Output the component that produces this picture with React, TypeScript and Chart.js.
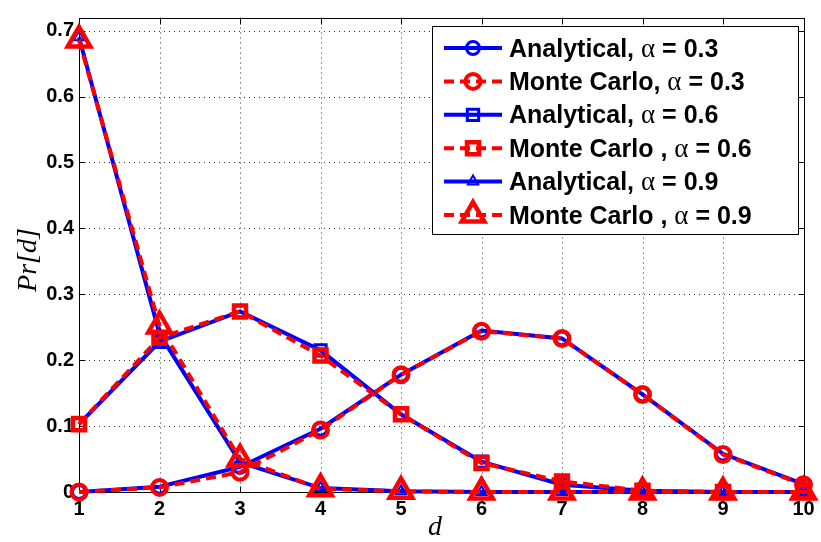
import React, { useEffect, useRef } from 'react';
import { Chart, registerables } from 'chart.js';

Chart.register(...registerables);

// ---- data ----
const dValues = [1, 2, 3, 4, 5, 6, 7, 8, 9, 10];
const xTickValues = [1, 2, 3, 4, 5, 6, 7, 8, 9, 10];
const yTickValues = [0, 0.1, 0.2, 0.3, 0.4, 0.5, 0.6, 0.7];

const analytical03 = [0, 0.008, 0.038, 0.096, 0.178, 0.245, 0.233, 0.148, 0.058, 0.012];
const monteCarlo03 = [0, 0.007, 0.030, 0.094, 0.178, 0.244, 0.233, 0.148, 0.057, 0.011];
const analytical06 = [0.103, 0.228, 0.274, 0.215, 0.118, 0.046, 0.011, 0.002, 0, 0];
const monteCarlo06 = [0.103, 0.234, 0.274, 0.207, 0.118, 0.044, 0.016, 0.002, 0, 0];
const analytical09 = [0.690, 0.240, 0.045, 0.006, 0.001, 0, 0, 0, 0, 0];
const monteCarlo09 = [0.686, 0.252, 0.050, 0.005, 0.001, 0, 0, 0, 0, 0];

const legendPrefixes = ['Analytical, ', 'Monte Carlo, ', 'Analytical, ', 'Monte Carlo , ', 'Analytical, ', 'Monte Carlo , '];
const legendAlphaValues = ['0.3', '0.3', '0.6', '0.6', '0.9', '0.9'];

const xTitle = 'd';
const yTitle = 'Pr[d]';

const SANS = '"Liberation Sans", Arial, Helvetica, sans-serif';
const SERIF = '"Liberation Serif", "Times New Roman", serif';
const BLUE = '#0000ff';
const RED = '#ff0000';

type MarkerSpec = { style: string; radius: number; bw: number };

function series(values: number[], color: string, dashed: boolean, m: MarkerSpec, idx: number) {
  return {
    label: legendPrefixes[idx] + 'α = ' + legendAlphaValues[idx],
    data: dValues.map((d, i) => ({ x: d, y: values[i] })),
    borderColor: color,
    borderWidth: 4,
    borderDash: dashed ? [10, 6] : [],
    pointStyle: m.style,
    pointRadius: m.radius,
    pointBorderWidth: m.bw,
    pointBorderColor: color,
    pointBackgroundColor: 'rgba(0,0,0,0)',
    fill: false,
    tension: 0,
    clip: false as any,
    order: dashed ? 0 : 1,
  };
}

function drawMarker(ctx: CanvasRenderingContext2D, style: string, x: number, y: number, r: number) {
  ctx.beginPath();
  if (style === 'circle') {
    ctx.arc(x, y, r, 0, Math.PI * 2);
  } else if (style === 'rect') {
    const s = r * Math.SQRT1_2;
    ctx.rect(x - s, y - s, 2 * s, 2 * s);
  } else {
    let rad = 0;
    const t = (2 * Math.PI) / 3;
    ctx.moveTo(x + Math.sin(rad) * r, y - Math.cos(rad) * r);
    rad += t;
    ctx.lineTo(x + Math.sin(rad) * r, y - Math.cos(rad) * r);
    rad += t;
    ctx.lineTo(x + Math.sin(rad) * r, y - Math.cos(rad) * r);
    ctx.closePath();
  }
  ctx.stroke();
}

const framePlugin = {
  id: 'matlabFrame',
  beforeDatasetsDraw(chart: any) {
    const { ctx, chartArea } = chart;
    const { left, right, top, bottom } = chartArea;
    const xs = chart.scales.x;
    const ys = chart.scales.y;
    ctx.save();
    // dotted grid
    ctx.strokeStyle = '#333';
    ctx.lineWidth = 1;
    ctx.setLineDash([1, 4]);
    xTickValues.forEach((v) => {
      const px = Math.round(xs.getPixelForValue(v)) + 0.5;
      if (px - left < 2 || right - px < 2) return;
      ctx.beginPath();
      ctx.moveTo(px, top);
      ctx.lineTo(px, bottom);
      ctx.stroke();
    });
    yTickValues.forEach((v) => {
      const py = Math.round(ys.getPixelForValue(v)) + 0.5;
      if (bottom - py < 2 || py - top < 2) return;
      ctx.beginPath();
      ctx.moveTo(left, py);
      ctx.lineTo(right, py);
      ctx.stroke();
    });
    ctx.setLineDash([]);
    // frame
    ctx.strokeStyle = '#000';
    ctx.lineWidth = 1;
    const L = Math.round(left) + 0.5;
    const R = Math.round(right) + 0.5;
    const T = Math.round(top) + 0.5;
    const B = Math.round(bottom) + 0.5;
    ctx.strokeRect(L, T, R - L, B - T);
    // inward ticks
    const tl = 6;
    ctx.beginPath();
    xTickValues.forEach((v) => {
      const px = Math.round(xs.getPixelForValue(v)) + 0.5;
      ctx.moveTo(px, B);
      ctx.lineTo(px, B - tl);
      ctx.moveTo(px, T);
      ctx.lineTo(px, T + tl);
    });
    yTickValues.forEach((v) => {
      const py = Math.round(ys.getPixelForValue(v)) + 0.5;
      ctx.moveTo(L, py);
      ctx.lineTo(L + tl, py);
      ctx.moveTo(R, py);
      ctx.lineTo(R - tl, py);
    });
    ctx.stroke();
    ctx.restore();
  },
  afterDraw(chart: any) {
    const { ctx } = chart;
    ctx.save();
    // axis titles
    ctx.fillStyle = '#000';
    ctx.font = 'italic 28px ' + SERIF;
    ctx.textAlign = 'center';
    ctx.textBaseline = 'alphabetic';
    ctx.fillText(xTitle, 435, 535);
    ctx.save();
    ctx.translate(36, 260);
    ctx.rotate(-Math.PI / 2);
    ctx.fillText(yTitle, 0, 0);
    ctx.restore();

    // legend
    const bx = 432.5, by = 26.5, bw = 366, bh = 208;
    ctx.fillStyle = '#fff';
    ctx.fillRect(bx, by, bw, bh);
    ctx.strokeStyle = '#000';
    ctx.lineWidth = 1;
    ctx.strokeRect(bx, by, bw, bh);
    const ds = chart.data.datasets;
    ds.forEach((d: any, i: number) => {
      const cy = 48 + i * 33.4;
      ctx.strokeStyle = d.borderColor;
      ctx.lineWidth = d.borderWidth;
      ctx.setLineDash(d.borderDash);
      ctx.beginPath();
      ctx.moveTo(444, cy);
      ctx.lineTo(502, cy);
      ctx.stroke();
      ctx.setLineDash([]);
      ctx.lineWidth = d.pointBorderWidth;
      drawMarker(ctx, d.pointStyle, 473, cy, d.pointRadius);
      // text
      ctx.fillStyle = '#000';
      ctx.textAlign = 'left';
      ctx.textBaseline = 'alphabetic';
      let x = 509;
      const base = cy + 8.5;
      ctx.font = 'bold 25px ' + SANS;
      ctx.fillText(legendPrefixes[i], x, base);
      x += ctx.measureText(legendPrefixes[i]).width;
      ctx.font = '27px ' + SERIF;
      ctx.fillText('α', x, base);
      x += ctx.measureText('α').width;
      ctx.font = 'bold 25px ' + SANS;
      ctx.fillText(' = ' + legendAlphaValues[i], x, base);
    });
    ctx.restore();
  },
};

export default function App() {
  const ref = useRef<HTMLCanvasElement | null>(null);
  useEffect(() => {
    document.body.style.margin = '0';
    const canvas = ref.current;
    if (!canvas) return;
    const chart = new Chart(canvas, {
      type: 'line',
      data: {
        datasets: [
          series(analytical03, BLUE, false, { style: 'circle', radius: 6.5, bw: 3 }, 0),
          series(monteCarlo03, RED, true, { style: 'circle', radius: 7.5, bw: 4 }, 1),
          series(analytical06, BLUE, false, { style: 'rect', radius: 8, bw: 3 }, 2),
          series(monteCarlo06, RED, true, { style: 'rect', radius: 8.5, bw: 4.5 }, 3),
          series(analytical09, BLUE, false, { style: 'triangle', radius: 6, bw: 2 }, 4),
          series(monteCarlo09, RED, true, { style: 'triangle', radius: 13, bw: 4.5 }, 5),
        ] as any,
      },
      options: {
        animation: false,
        responsive: false,
        devicePixelRatio: 1,
        layout: { padding: { top: 2, right: 13, left: 0, bottom: 0 } },
        plugins: { legend: { display: false }, tooltip: { enabled: false } },
        scales: {
          x: {
            type: 'linear',
            min: 1,
            max: 10,
            grid: { display: false, drawTicks: false },
            border: { display: false },
            afterBuildTicks: (s: any) => {
              s.ticks = xTickValues.map((v) => ({ value: v }));
            },
            afterFit: (s: any) => {
              s.height = 50;
            },
            ticks: {
              color: '#000',
              font: { family: SANS, size: 20, weight: 'bold' },
              padding: 5,
              maxRotation: 0,
              autoSkip: false,
            },
          },
          y: {
            type: 'linear',
            min: 0,
            max: 0.72,
            grid: { display: false, drawTicks: false },
            border: { display: false },
            afterBuildTicks: (s: any) => {
              s.ticks = yTickValues.map((v) => ({ value: v }));
            },
            afterFit: (s: any) => {
              s.width = 79;
            },
            ticks: {
              color: '#000',
              font: { family: SANS, size: 20, weight: 'bold' },
              padding: 5,
              autoSkip: false,
            },
          },
        },
      } as any,
      plugins: [framePlugin],
    });
    return () => chart.destroy();
  }, []);
  return (
    <div style={{ width: 821, height: 542 }}>
      <canvas ref={ref} width={821} height={542} />
    </div>
  );
}
